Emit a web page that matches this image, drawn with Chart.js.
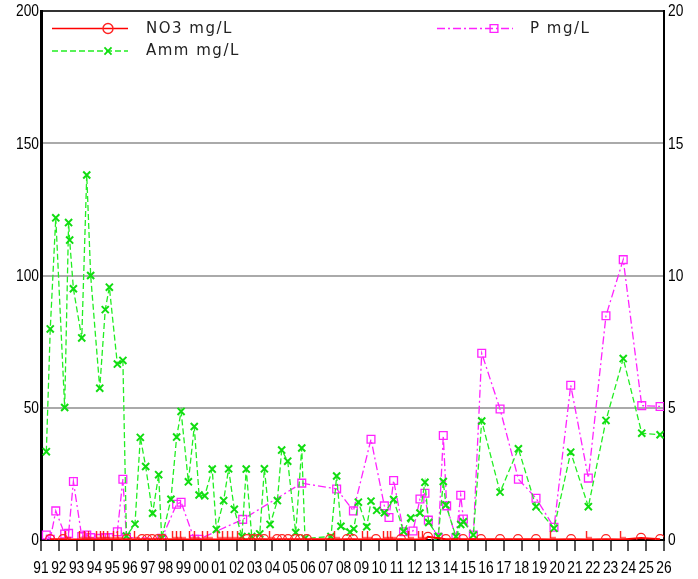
<!DOCTYPE html>
<html>
<head>
<meta charset="utf-8">
<script src="https://cdn.jsdelivr.net/npm/chart.js@4/dist/chart.umd.min.js"></script>
<style>
  html, body { margin: 0; padding: 0; background: #fff; }
  #wrap { width: 698px; height: 579px; }
</style>
</head>
<body>
<div id="wrap"><canvas id="chart" width="698" height="579"></canvas></div>
<script>
// Amm mg/L (left axis)
const ammDates = [1991.30, 1991.52, 1991.83, 1992.33, 1992.55, 1992.61, 1992.82, 1993.29, 1993.57, 1993.79,
  1994.30, 1994.61, 1994.84, 1995.29, 1995.60, 1995.80, 1996.28, 1996.58, 1996.88, 1997.27,
  1997.61, 1997.78, 1998.30, 1998.62, 1998.87, 1999.28, 1999.61, 1999.88, 2000.20, 2000.62,
  2000.85, 2001.26, 2001.54, 2001.86, 2002.29, 2002.53, 2002.84, 2003.29, 2003.55, 2003.87,
  2004.28, 2004.52, 2004.86, 2005.31, 2005.65, 2005.83, 2007.29, 2007.61, 2007.85, 2008.36,
  2008.57, 2008.83, 2009.30, 2009.54, 2009.86, 2010.29, 2010.81, 2011.37, 2011.77, 2012.29,
  2012.57, 2012.78, 2013.32, 2013.60, 2013.75, 2014.31, 2014.58, 2014.73, 2015.29, 2015.76,
  2016.79, 2017.82, 2018.81, 2019.82, 2020.76, 2021.75, 2022.74, 2023.71, 2024.75, 2025.78];
const ammVals = [33.4, 79.8, 121.8, 50.1, 120.0, 113.4, 95.0, 76.4, 138.0, 100.0,
  57.4, 87.1, 95.6, 66.5, 67.9, 1.5, 6.0, 38.8, 27.8, 10.1,
  24.7, 0.6, 15.4, 38.9, 48.6, 22.0, 42.9, 17.0, 16.7, 26.8,
  4.0, 14.9, 26.9, 11.6, 1.3, 26.8, 1.3, 2.3, 26.9, 5.9,
  14.9, 34.0, 29.8, 2.8, 34.8, 0.6, 1.3, 24.2, 5.2, 3.0,
  4.2, 14.3, 5.0, 14.7, 11.2, 10.3, 15.3, 3.2, 8.3, 10.2,
  21.8, 6.6, 1.3, 22.1, 13.2, 1.3, 5.9, 6.9, 1.9, 45.0,
  18.1, 34.5, 12.6, 4.4, 33.2, 12.6, 45.2, 68.6, 40.4, 39.8];

// P mg/L (right axis)
const pDates = [1991.30, 1991.52, 1991.83, 1992.33, 1992.55, 1992.82, 1993.29, 1993.57, 1993.79, 1994.30,
  1994.61, 1994.84, 1995.29, 1995.60, 1995.80, 1997.78, 1998.62, 1998.87, 1999.61, 1999.88,
  2002.33, 2005.65, 2007.61, 2008.55, 2009.54, 2010.29, 2010.55, 2010.81, 2011.37, 2011.90,
  2012.29, 2012.57, 2012.76, 2013.32, 2013.60, 2013.79, 2014.31, 2014.58, 2014.73, 2015.29,
  2015.76, 2016.79, 2017.82, 2018.81, 2019.82, 2020.76, 2021.75, 2022.74, 2023.71, 2024.75, 2025.78];
const pVals = [0.19, 0.03, 1.10, 0.23, 0.25, 2.21, 0.13, 0.19, 0.09, 0.06,
  0.09, 0.09, 0.31, 2.30, 0.10, 0.06, 1.35, 1.43, 0.03, 0.03,
  0.78, 2.15, 1.93, 1.10, 3.81, 1.29, 0.85, 2.25, 0.31, 0.34,
  1.55, 1.77, 0.75, 0.10, 3.95, 1.29, 0.08, 1.69, 0.79, 0.19,
  7.06, 4.95, 2.30, 1.58, 0.48, 5.85, 2.34, 8.48, 10.6, 5.08, 5.05];

// NO3 mg/L (left axis), 'L' = below detection limit
const no3Dates = [1991.51, 1992.24, 1992.52, 1993.30, 1993.58, 1993.81, 1994.26, 1994.48, 1994.65, 1994.88,
  1995.21, 1995.44, 1995.81, 1996.39, 1996.67, 1996.96, 1997.24, 1997.57, 1997.85, 1998.53,
  1998.75, 1998.98, 1999.48, 1999.76, 2000.21, 2000.49, 2001.06, 2001.34, 2001.62, 2001.90,
  2002.18, 2002.57, 2002.91, 2003.19, 2003.53, 2003.98, 2004.26, 2004.54, 2004.88, 2005.27,
  2005.55, 2005.94, 2007.24, 2007.63, 2008.19, 2008.53, 2009.20, 2009.48, 2009.82, 2010.38,
  2010.61, 2010.78, 2011.22, 2011.79, 2012.35, 2012.57, 2012.74, 2013.75, 2014.71, 2015.72,
  2016.79, 2017.80, 2018.81, 2019.76, 2020.78, 2021.79, 2022.74, 2023.70, 2024.71, 2025.78];
const no3Vals = [0.3, 0.3, 0.2, 0.2, 0.2, 0.2, 0.2, 0.2, 0.2, 0.2,
  0.2, 0.2, 0.3, 0.2, 0.3, 0.3, 0.3, 0.3, 0.3, 0.2,
  0.2, 0.2, 0.2, 0.2, 0.2, 0.2, 0.2, 0.2, 0.2, 0.2,
  0.2, 0.3, 0.3, 0.3, 0.3, 0.2, 0.3, 0.3, 0.3, 0.3,
  0.3, 0.3, 0.3, 0.2, 0.3, 0.3, 0.2, 0.2, 0.3, 0.2,
  0.2, 0.2, 0.3, 0.2, 0.2, 0.2, 1.2, 0.3, 0.3, 0.3,
  0.3, 0.3, 0.3, 0.2, 0.3, 0.2, 0.3, 0.2, 0.8, 0.3];
const no3Flags = ['O','O','L','L','L','L','L','L','L','L',
  'L','L','O','L','O','O','O','O','O','L',
  'L','L','L','L','L','L','L','L','L','L',
  'L','O','O','O','O','L','O','O','O','O',
  'O','O','O','L','O','O','L','L','O','L',
  'L','L','O','L','L','L','O','O','O','O',
  'O','O','O','L','O','L','O','L','O','O'];

const xTickValues = [1991, 1992, 1993, 1994, 1995, 1996, 1997, 1998, 1999, 2000, 2001, 2002,
  2003, 2004, 2005, 2006, 2007, 2008, 2009, 2010, 2011, 2012, 2013, 2014, 2015, 2016, 2017,
  2018, 2019, 2020, 2021, 2022, 2023, 2024, 2025, 2026];
const xTickLabels = ['91','92','93','94','95','96','97','98','99','00','01','02',
  '03','04','05','06','07','08','09','10','11','12','13','14','15','16','17',
  '18','19','20','21','22','23','24','25','26'];
const yLeftTicks = [0, 50, 100, 150, 200];
const yRightTicks = [0, 5, 10, 15, 20];

const toXY = (xs, ys) => xs.map((x, i) => ({ x: x, y: ys[i] }));

// small red "L" marker (drawn just above the point)
function makeL() {
  const c = document.createElement('canvas');
  c.width = 10; c.height = 16;
  const g = c.getContext('2d');
  g.strokeStyle = '#ff1a1a';
  g.lineWidth = 1.4;
  g.beginPath();
  g.moveTo(2.5, 0);
  g.lineTo(2.5, 6.5);
  g.lineTo(8, 6.5);
  g.stroke();
  return c;
}
const lMark = makeL();

// narrow tick labels (horizontally compressed)
const narrowTicks = {
  id: 'narrowTicks',
  afterDraw(chart) {
    const ctx = chart.ctx;
    const sx = chart.scales.x, sy = chart.scales.y, sy2 = chart.scales.y2;
    const put = (txt, x, y, align) => {
      ctx.save();
      ctx.translate(x, y);
      ctx.scale(0.86, 1);
      ctx.textAlign = align;
      ctx.fillText(txt, 0, 0);
      ctx.restore();
    };
    ctx.save();
    ctx.fillStyle = '#000';
    ctx.font = '16px "Liberation Sans", Arial, sans-serif';
    ctx.textBaseline = 'middle';
    xTickValues.forEach((v, i) => put(xTickLabels[i], sx.getPixelForValue(v), 569, 'center'));
    yLeftTicks.forEach(v => put(String(v), 39, sy.getPixelForValue(v) + 1, 'right'));
    yRightTicks.forEach(v => put(String(v), 668, sy2.getPixelForValue(v) + 1, 'left'));
    ctx.restore();
  }
};

// legend drawn inside the plot area
const insideLegend = {
  id: 'insideLegend',
  afterDraw(chart) {
    const ctx = chart.ctx;
    const items = [
      { ds: 0, x0: 52, x1: 128, mx: 108, y: 28.5, tx: 146, label: 'NO3 mg/L', style: 'circle' },
      { ds: 1, x0: 52, x1: 128, mx: 108, y: 51, tx: 146, label: 'Amm mg/L', style: 'crossRot' },
      { ds: 2, x0: 437, x1: 513, mx: 494, y: 28.5, tx: 530, label: 'P mg/L', style: 'rect' }
    ];
    items.forEach(it => {
      const d = chart.data.datasets[it.ds];
      ctx.save();
      ctx.strokeStyle = d.borderColor;
      ctx.lineWidth = 1.3;
      ctx.setLineDash(d.borderDash || []);
      ctx.beginPath();
      ctx.moveTo(it.x0, it.y);
      ctx.lineTo(it.x1, it.y);
      ctx.stroke();
      ctx.setLineDash([]);
      ctx.fillStyle = 'rgba(0,0,0,0)';
      ctx.strokeStyle = d.pointBorderColor;
      ctx.lineWidth = it.style === 'crossRot' ? 1.8 : 1.4;
      Chart.helpers.drawPoint(ctx, { pointStyle: it.style, radius: it.style === 'rect' ? 5.5 : 5, borderWidth: 1.4 }, it.mx, it.y);
      ctx.fillStyle = '#222';
      ctx.font = '15px "DejaVu Sans"';
      ctx.letterSpacing = '1.5px';
      ctx.textBaseline = 'middle';
      ctx.fillText(it.label, it.tx, it.y + 0.5);
      ctx.restore();
    });
  }
};

new Chart(document.getElementById('chart'), {
  type: 'line',
  data: {
    datasets: [
      {
        label: 'NO3 mg/L',
        data: toXY(no3Dates, no3Vals),
        yAxisID: 'y',
        borderColor: '#ff0000',
        backgroundColor: 'transparent',
        borderWidth: 2,
        pointStyle: no3Flags.map(f => f === 'L' ? lMark : 'circle'),
        pointRadius: 4.5,
        pointBorderWidth: 1.2,
        pointBorderColor: '#ff2222',
        order: 0
      },
      {
        label: 'Amm mg/L',
        data: toXY(ammDates, ammVals),
        yAxisID: 'y',
        borderColor: '#22ee22',
        backgroundColor: 'transparent',
        borderWidth: 1.3,
        borderDash: [6, 3],
        pointStyle: 'crossRot',
        pointRadius: 5,
        pointBorderWidth: 2,
        pointBorderColor: '#11dd11',
        order: 1
      },
      {
        label: 'P mg/L',
        data: toXY(pDates, pVals),
        yAxisID: 'y2',
        borderColor: '#ff22ff',
        backgroundColor: 'transparent',
        borderWidth: 1.3,
        borderDash: [8, 3, 2, 3],
        pointStyle: 'rect',
        pointRadius: 5.5,
        pointBorderWidth: 1.3,
        pointBorderColor: '#ff22ff',
        order: 2
      }
    ]
  },
  options: {
    responsive: false,
    animation: false,
    layout: { padding: { top: 11, left: 0, right: 0, bottom: 0 } },
    elements: { line: { tension: 0 } },
    plugins: { legend: { display: false }, tooltip: { enabled: false } },
    scales: {
      x: {
        type: 'linear',
        min: 1991,
        max: 2026,
        afterFit(s) { s.height = 39; },
        afterBuildTicks(s) { s.ticks = xTickValues.map(v => ({ value: v })); },
        ticks: { display: false },
        grid: { drawOnChartArea: false, drawTicks: true, tickLength: 11, color: '#555', lineWidth: 2 },
        border: { color: '#000', width: 2 }
      },
      y: {
        position: 'left',
        min: 0,
        max: 200,
        afterFit(s) { s.width = 41; },
        afterBuildTicks(s) { s.ticks = yLeftTicks.map(v => ({ value: v })); },
        ticks: { display: false },
        grid: {
          drawTicks: false, lineWidth: 2,
          color: c => c.tick && c.tick.value === 200 ? '#333' : '#aaa'
        },
        border: { color: '#000', width: 3 }
      },
      y2: {
        position: 'right',
        min: 0,
        max: 20,
        afterFit(s) { s.width = 34; },
        afterBuildTicks(s) { s.ticks = yRightTicks.map(v => ({ value: v })); },
        ticks: { display: false },
        grid: { drawOnChartArea: false, drawTicks: false },
        border: { color: '#000', width: 2 }
      }
    }
  },
  plugins: [insideLegend, narrowTicks]
});
</script>
</body>
</html>
